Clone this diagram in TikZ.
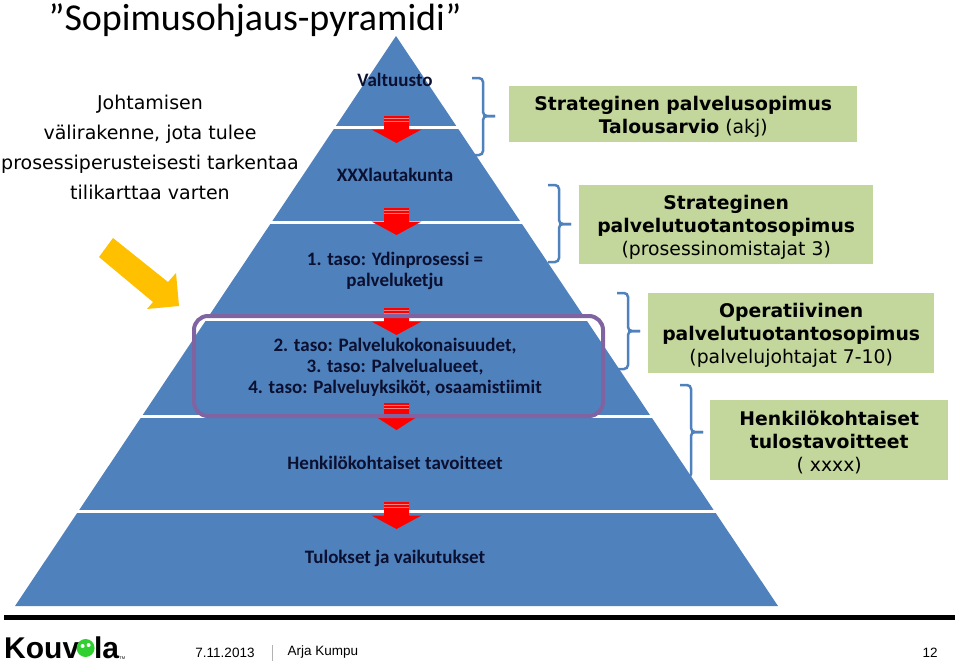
\documentclass[tikz,border=0pt]{standalone}
\usepackage{fontspec}
\setmainfont{Carlito}[Ligatures=CommonOff]
\newfontfamily\verdfont{DejaVu Sans}
\newfontfamily\footfont{Liberation Sans}
\usetikzlibrary{positioning}
\definecolor{pyrblue}{HTML}{4F81BD}
\definecolor{boxgreen}{HTML}{C3D69B}
\definecolor{framepurple}{HTML}{8064A2}
\definecolor{arrowyellow}{HTML}{FFC000}
\definecolor{labelnavy}{HTML}{0B1030}
\definecolor{stripe}{HTML}{F08080}
\definecolor{logogreen}{HTML}{2FD02F}
\newcommand{\boxtop}{\rule{0pt}{19pt}}

\begin{document}
\begin{tikzpicture}[
    x=1pt, y=-1pt,
    layerlbl/.style={font=\bfseries\fontsize{19}{21}\selectfont, text=labelnavy, align=center, inner sep=0pt},
    greenbox/.style={fill=boxgreen, align=center, inner sep=0pt, anchor=north west,
                     font=\verdfont\fontsize{18.8}{23}\selectfont},
    sidetxt/.style={font=\verdfont\fontsize{19}{30}\selectfont, align=center, inner sep=0pt},
    foottxt/.style={font=\footfont\fontsize{13.5}{16}\selectfont, inner sep=0pt},
    logotxt/.style={font=\footfont\bfseries\fontsize{30}{30}\selectfont, inner sep=0pt},
    redarr/.style={fill=red, draw=none},
    bracket/.style={draw=pyrblue, line width=2.5pt, rounded corners=4pt},
  ]
    \useasboundingbox (0,0) rectangle (959,664);

    % --- Title ---
    \node[inner sep=0pt, font=\fontsize{38}{44}\selectfont] (title) at (255,20) {”Sopimusohjaus-pyramidi”};

    % --- Pyramid with white separators ---
    \fill[pyrblue] (396,36) -- (778,606) -- (15,606) -- cycle;
    \foreach \yy in {127,222,319,416,511}
      \fill[white] (0,\yy-1.5) rectangle (800,\yy+1.5);

    % --- Red arrows between layers ---
    \foreach \yy/\hw in {116/25,208/25,308/25,403/21,502/25} {
      \fill[redarr] (384,\yy) -- (409,\yy) -- (409,\yy+13.5) -- (396.5+\hw,\yy+13.5)
        -- (396.5,\yy+27) -- (396.5-\hw,\yy+13.5) -- (384,\yy+13.5) -- cycle;
      \fill[stripe] (384,\yy+2) rectangle (409,\yy+3);
      \fill[stripe] (384,\yy+5) rectangle (409,\yy+6);
    }

    % --- Layer labels ---
    \node[layerlbl] (valtuusto) at (395,80)  {Valtuusto};
    \node[layerlbl] (lautakunta) at (395,175) {XXXlautakunta};
    \node[layerlbl] (ydin) at (395,271) {1. taso: Ydinprosessi =\\palveluketju};
    \node[layerlbl] (tasot) at (395,367) {2. taso: Palvelukokonaisuudet,\\3. taso: Palvelualueet,\\4. taso: Palveluyksiköt, osaamistiimit};
    \node[layerlbl] (henk) at (395,463) {Henkilökohtaiset tavoitteet};
    \node[layerlbl] (tulokset) at (395,558) {Tulokset ja vaikutukset};

    % --- Purple frame ---
    \draw[framepurple, line width=4pt, rounded corners=14pt] (194,316) rectangle (603,416);

    % --- Left text and yellow arrow ---
    \node[sidetxt] (johtaminen) at (150,147)
      {Johtamisen\\välirakenne, jota tulee\\prosessiperusteisesti tarkentaa\\tilikarttaa varten};
    \fill[arrowyellow] (113,238) -- (99,257) -- (153,302) -- (147,309) -- (179,306) -- (176,273) -- (168,282) -- cycle;

    % --- Green boxes ---
    \node[greenbox, minimum width=348pt, minimum height=56pt] (sopimus) at (509,86)
      {\boxtop\textbf{Strateginen palvelusopimus}\\\textbf{Talousarvio} (akj)};
    \node[greenbox, minimum width=294pt, minimum height=79pt] (tuotanto) at (579,185)
      {\boxtop\textbf{Strateginen}\\\textbf{palvelutuotantosopimus}\\(prosessinomistajat 3)};
    \node[greenbox, minimum width=286pt, minimum height=80pt] (operat) at (648,293)
      {\boxtop\textbf{Operatiivinen}\\\textbf{palvelutuotantosopimus}\\(palvelujohtajat 7-10)};
    \node[greenbox, minimum width=238pt, minimum height=80pt] (tulos) at (710,400)
      {\boxtop\textbf{Henkilökohtaiset}\\\textbf{tulostavoitteet}\\( xxxx)};

    % --- Brackets towards the boxes ---
    \foreach \bx/\bt/\bm/\bb in {472/78/116/155, 548/185/224/262, 617/293/331/369, 680/385/432/478} {
      \draw[bracket] (\bx,\bt) -- (\bx+11,\bt) -- (\bx+11,\bm) -- (\bx+23,\bm);
      \draw[bracket] (\bx+23,\bm) -- (\bx+11,\bm) -- (\bx+11,\bb) -- (\bx,\bb);
    }

    % --- Footer ---
    \fill[black] (4,614.5) rectangle (955,620);
    \node[logotxt, anchor=west] (kouv) at (4,648) {Kouv};
    \node[circle, fill=logogreen, minimum size=18pt, inner sep=0pt, right=-3pt of kouv] (silma) {};
    \fill[white] ([xshift=-3pt,yshift=2pt]silma.center) circle (2pt) ([xshift=3pt,yshift=3pt]silma.center) circle (2pt);
    \node[logotxt, right=-1pt of silma] (la) {la};
    \node[inner sep=0pt, font=\footfont\fontsize{4}{5}\selectfont, anchor=south west] (tm) at (la.south east) {TM};
    \node[foottxt] (pvm) at (225,653) {7.11.2013};
    \draw[gray!60] (272,645) -- (272,661);
    \node[foottxt] (tekija) at (323,652) {Arja Kumpu};
    \node[foottxt] (sivu) at (930,653) {12};
\end{tikzpicture}
\end{document}
